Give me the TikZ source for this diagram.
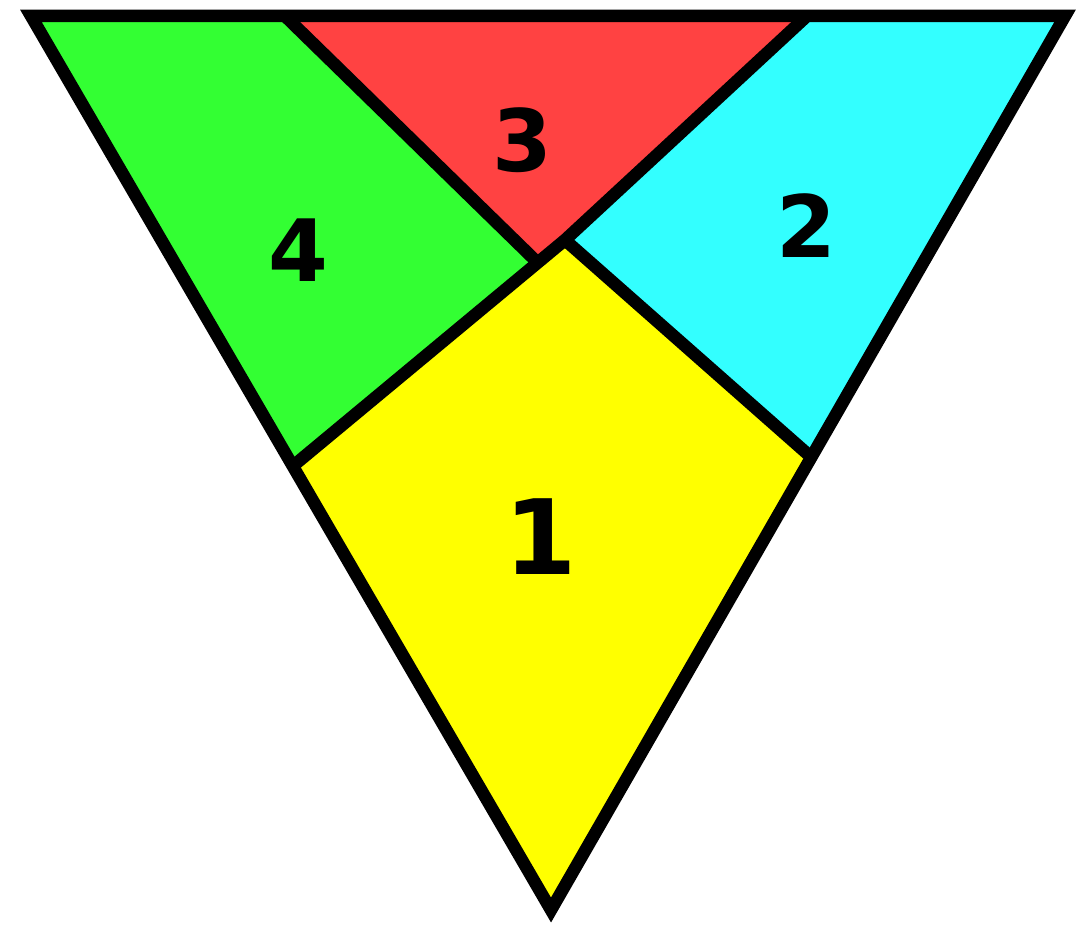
\documentclass[tikz,border=0pt]{standalone}
\usepackage{fontspec}
\setmainfont{DejaVu Sans}
\usepackage{xcolor}
\usepackage{tikz}
\definecolor{piecegreen}{HTML}{33FF33}
\definecolor{piecered}{HTML}{FF4242}
\definecolor{piececyan}{HTML}{33FFFF}
\definecolor{pieceyellow}{HTML}{FFFF00}
\tikzset{
  edge/.style={draw=black, line width=12.5pt, line join=miter, miter limit=10},
  num/.style={font=\bfseries\fontsize{86}{86}\selectfont, text=black, inner sep=0pt},
  bignum/.style={num, font=\bfseries\fontsize{104}{104}\selectfont}
}

\begin{document}
\begin{tikzpicture}[x=1pt, y=-1pt]
  \useasboundingbox (0,0) rectangle (1078,928);

  % corners of the big triangle
  \coordinate (tl) at (31,16);
  \coordinate (tr) at (1065,16);
  \coordinate (bot) at (551,910);
  % cut points
  \coordinate (p1) at (285,16);
  \coordinate (p2) at (807,16);
  \coordinate (lft) at (293,466);
  \coordinate (rgt) at (811,457);
  \coordinate (ytop) at (565,240);
  \coordinate (rtip) at (538,263);

  \fill[piecegreen] (tl) -- (p1) -- (rtip) -- (lft) -- cycle;
  \fill[piecered] (p1) -- (p2) -- (ytop) -- (rtip) -- cycle;
  \fill[piececyan] (p2) -- (tr) -- (rgt) -- (ytop) -- cycle;
  \fill[pieceyellow] (ytop) -- (rgt) -- (bot) -- (lft) -- cycle;

  \draw[edge] (tl) -- (tr) -- (bot) -- cycle;
  \draw[edge] (p1) -- (rtip);
  \draw[edge] (lft) -- (ytop) -- (p2);
  \draw[edge] (ytop) -- (rgt);

  \node[num] (n3) at (522,140) {3};
  \node[num] (n4) at (298,250) {4};
  \node[num] (n2) at (806,226) {2};
  \node[bignum] (n1) at (541,537) {1};
\end{tikzpicture}
\end{document}
